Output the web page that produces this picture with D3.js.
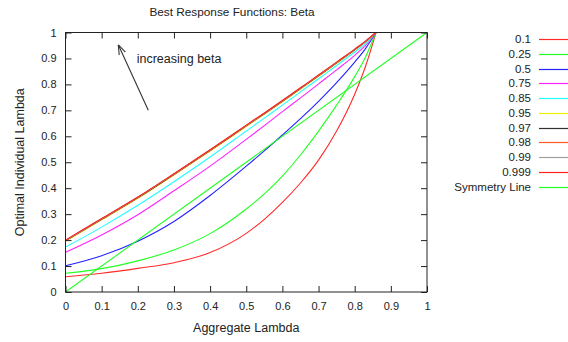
<!DOCTYPE html>
<html>
<head>
<meta charset="utf-8">
<script src="https://cdn.jsdelivr.net/npm/d3@7"></script>
<style>
  html, body { margin: 0; padding: 0; background: #fff; }
  svg text { font-family: "Liberation Sans", Arial, sans-serif; fill: #222; }
</style>
</head>
<body>
<svg id="chart" width="568" height="342"></svg>
<script>
// Aggregate lambda sample points shared by every best-response curve
const aggregateLambda = [0, 0.1, 0.2, 0.3, 0.4, 0.5, 0.55, 0.6, 0.65, 0.7, 0.75, 0.8, 0.83, 0.859];

// Optimal individual lambda for each beta
const beta010  = [0.059, 0.072, 0.091, 0.113, 0.152, 0.226, 0.280, 0.345, 0.420, 0.508, 0.620, 0.762, 0.870, 1.0];
const beta025  = [0.072, 0.090, 0.120, 0.162, 0.225, 0.320, 0.378, 0.447, 0.528, 0.620, 0.720, 0.830, 0.906, 1.0];
const beta050  = [0.101, 0.140, 0.196, 0.272, 0.372, 0.485, 0.544, 0.605, 0.668, 0.735, 0.807, 0.886, 0.938, 1.0];
const beta075  = [0.153, 0.220, 0.298, 0.390, 0.485, 0.588, 0.641, 0.695, 0.748, 0.802, 0.856, 0.912, 0.950, 1.0];
const beta085  = [0.173, 0.250, 0.334, 0.425, 0.520, 0.620, 0.670, 0.720, 0.771, 0.822, 0.873, 0.925, 0.957, 1.0];
const beta095  = [0.195, 0.278, 0.361, 0.451, 0.543, 0.638, 0.685, 0.733, 0.782, 0.831, 0.881, 0.932, 0.964, 1.0];
const beta097  = [0.197, 0.280, 0.363, 0.453, 0.545, 0.640, 0.687, 0.735, 0.784, 0.833, 0.883, 0.933, 0.965, 1.0];
const beta098  = [0.198, 0.281, 0.364, 0.454, 0.546, 0.641, 0.688, 0.736, 0.785, 0.834, 0.884, 0.934, 0.966, 1.0];
const beta099  = [0.199, 0.282, 0.365, 0.455, 0.547, 0.642, 0.689, 0.737, 0.786, 0.835, 0.885, 0.935, 0.966, 1.0];
const beta0999 = [0.200, 0.283, 0.366, 0.456, 0.548, 0.643, 0.690, 0.738, 0.787, 0.836, 0.886, 0.936, 0.967, 1.0];

// Symmetry line endpoints
const symmetryX = [0, 1];
const symmetryY = [0, 1];

const seriesLabels = ["0.1", "0.25", "0.5", "0.75", "0.85", "0.95", "0.97", "0.98", "0.99", "0.999", "Symmetry Line"];
const seriesColors = ["#ff2a2a", "#22ff22", "#2222ff", "#ff22ff", "#22ffff", "#eeee00", "#303030", "#ff5a1e", "#a0a0a0", "#ff2020", "#22ff22"];

const xTickValues = [0, 0.1, 0.2, 0.3, 0.4, 0.5, 0.6, 0.7, 0.8, 0.9, 1];
const xTickLabels = ["0", "0.1", "0.2", "0.3", "0.4", "0.5", "0.6", "0.7", "0.8", "0.9", "1"];
const yTickValues = [0, 0.1, 0.2, 0.3, 0.4, 0.5, 0.6, 0.7, 0.8, 0.9, 1];
const yTickLabels = ["0", "0.1", "0.2", "0.3", "0.4", "0.5", "0.6", "0.7", "0.8", "0.9", "1"];

// Annotation arrow: tail and head in data units
const arrowTail = [0.229, 0.70];
const arrowHead = [0.146, 0.953];
const arrowText = "increasing beta";
const arrowTextPos = [0.197, 0.9];

const curveValues = [beta010, beta025, beta050, beta075, beta085, beta095, beta097, beta098, beta099, beta0999];
const series = curveValues.map((vals, i) => ({
  label: seriesLabels[i],
  color: seriesColors[i],
  points: aggregateLambda.map((x, j) => [x, vals[j]])
}));
series.push({
  label: seriesLabels[10],
  color: seriesColors[10],
  points: symmetryX.map((x, j) => [x, symmetryY[j]])
});

const svg = d3.select("#chart");
const plotLeft = 65.5, plotRight = 427, plotTop = 32.5, plotBottom = 292;

const x = d3.scaleLinear().domain([0, 1]).range([plotLeft, plotRight]);
const y = d3.scaleLinear().domain([0, 1]).range([plotBottom, plotTop]);

// Curves, clipped to the plot box
svg.append("clipPath").attr("id", "plotClip")
  .append("rect").attr("x", plotLeft).attr("y", plotTop - 1)
  .attr("width", plotRight - plotLeft).attr("height", plotBottom - plotTop + 1);

const lineGen = d3.line()
  .x(d => x(d[0]))
  .y(d => y(d[1]))
  .curve(d3.curveMonotoneX);

svg.append("g").attr("clip-path", "url(#plotClip)")
  .selectAll("path")
  .data(series)
  .join("path")
  .attr("d", d => lineGen(d.points))
  .attr("fill", "none")
  .attr("stroke", d => d.color)
  .attr("stroke-width", 1.1);

// Axes with inward ticks on all four sides
const fmtX = (d, i) => xTickLabels[i];
const fmtY = (d, i) => yTickLabels[i];

const gBottom = svg.append("g").attr("transform", `translate(0,${plotBottom})`)
  .call(d3.axisBottom(x).tickValues(xTickValues).tickFormat(fmtX).tickSizeInner(-6).tickSizeOuter(0).tickPadding(10));
const gTop = svg.append("g").attr("transform", `translate(0,${plotTop})`)
  .call(d3.axisTop(x).tickValues(xTickValues).tickFormat("").tickSizeInner(-6).tickSizeOuter(0));
const gLeft = svg.append("g").attr("transform", `translate(${plotLeft},0)`)
  .call(d3.axisLeft(y).tickValues(yTickValues).tickFormat(fmtY).tickSizeInner(-6).tickSizeOuter(0).tickPadding(9));
const gRight = svg.append("g").attr("transform", `translate(${plotRight},0)`)
  .call(d3.axisRight(y).tickValues(yTickValues).tickFormat("").tickSizeInner(-6).tickSizeOuter(0));

[gBottom, gTop, gLeft, gRight].forEach(g => {
  g.select(".domain").remove();
  g.selectAll(".tick line").attr("stroke", "#222");
  g.selectAll(".tick text").attr("font-size", 11).attr("fill", "#222")
    .style("font-family", "'Liberation Sans', Arial, sans-serif");
});

// Plot border
svg.append("rect")
  .attr("x", plotLeft).attr("y", plotTop)
  .attr("width", plotRight - plotLeft).attr("height", plotBottom - plotTop)
  .attr("fill", "none").attr("stroke", "#222").attr("stroke-width", 1);

// Title and axis labels
svg.append("text").attr("x", 232).attr("y", 12).attr("dy", "0.35em")
  .attr("text-anchor", "middle").attr("font-size", 11.8)
  .text("Best Response Functions: Beta");
svg.append("text").attr("x", (plotLeft + plotRight) / 2).attr("y", 328).attr("dy", "0.35em")
  .attr("text-anchor", "middle").attr("font-size", 12.5)
  .text("Aggregate Lambda");
svg.append("text")
  .attr("transform", `translate(20,${(plotTop + plotBottom) / 2}) rotate(-90)`)
  .attr("dy", "0.35em")
  .attr("text-anchor", "middle").attr("font-size", 12.5)
  .text("Optimal Individual Lambda");

// Annotation arrow
svg.append("defs").append("marker")
  .attr("id", "arrowHead").attr("viewBox", "0 0 10 10")
  .attr("refX", 10).attr("refY", 5)
  .attr("markerWidth", 10).attr("markerHeight", 10)
  .attr("markerUnits", "userSpaceOnUse")
  .attr("orient", "auto")
  .append("path").attr("d", "M0,1.5 L10,5 L0,8.5")
  .attr("fill", "none").attr("stroke", "#333").attr("stroke-width", 1.1);

svg.append("line")
  .attr("x1", x(arrowTail[0])).attr("y1", y(arrowTail[1]))
  .attr("x2", x(arrowHead[0])).attr("y2", y(arrowHead[1]))
  .attr("stroke", "#333").attr("stroke-width", 1.1)
  .attr("marker-end", "url(#arrowHead)");

svg.append("text")
  .attr("x", x(arrowTextPos[0])).attr("y", y(arrowTextPos[1])).attr("dy", "0.35em")
  .attr("font-size", 12.5)
  .text(arrowText);

// Legend
const legend = svg.append("g");
const rowY = d3.scaleLinear().domain([0, series.length - 1]).range([39, 186.7]);
series.forEach((s, i) => {
  legend.append("text")
    .attr("x", 531).attr("y", rowY(i)).attr("dy", "0.35em")
    .attr("text-anchor", "end").attr("font-size", 11.5)
    .text(s.label);
  legend.append("line")
    .attr("x1", 539).attr("x2", 568)
    .attr("y1", Math.round(rowY(i)) + 0.5).attr("y2", Math.round(rowY(i)) + 0.5)
    .attr("stroke", s.color).attr("stroke-width", 1.2);
});
</script>
</body>
</html>
